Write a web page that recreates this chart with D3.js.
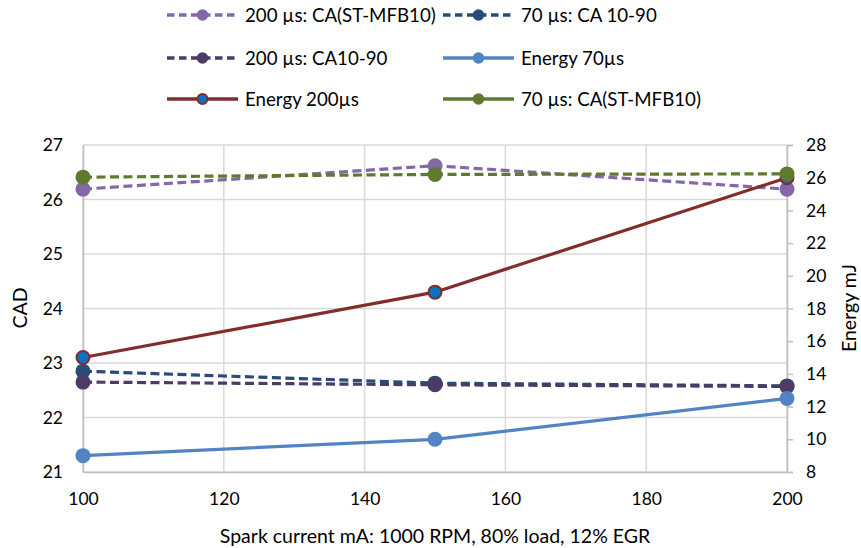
<!DOCTYPE html>
<html>
<head>
<meta charset="utf-8">
<script src="https://cdn.jsdelivr.net/npm/d3@7"></script>
<style>
  html, body { margin: 0; padding: 0; background: #fff; }
  svg { display: block; font-family: Lato, "Open Sans", sans-serif; }
</style>
</head>
<body>
<svg id="chart" width="861" height="548"></svg>
<script>
// Spark current (mA)
const current = [100, 150, 200];
const xTicks = [100, 120, 140, 160, 180, 200];
const cadTicks = [21, 22, 23, 24, 25, 26, 27];
const energyTicks = [8, 10, 12, 14, 16, 18, 20, 22, 24, 26, 28];

// Combustion angle series (CAD, left axis)
const ca200MFB = [26.19, 26.62, 26.19];
const ca70CA1090 = [22.85, 22.63, 22.58];
const ca200CA1090 = [22.65, 22.6, 22.57];
const ca70MFB = [26.41, 26.46, 26.47];
// Spark energy series (mJ, right axis)
const energy70 = [9, 10, 12.5];
const energy200 = [15, 19, 26];

const seriesNames = [
  "200 µs: CA(ST-MFB10)", "70 µs: CA 10-90",
  "200 µs: CA10-90", "Energy 70µs",
  "Energy 200µs", "70 µs: CA(ST-MFB10)"
];

// dash: plotted line style; legendDash: style of the key swatch
const series = [
  { name: seriesNames[0], values: ca200MFB,    axis: "left",  color: "#8467A8", dash: true,  legendDash: true },
  { name: seriesNames[1], values: ca70CA1090,  axis: "left",  color: "#284C77", dash: true,  legendDash: true },
  { name: seriesNames[2], values: ca200CA1090, axis: "left",  color: "#4B3B66", dash: true,  legendDash: true },
  { name: seriesNames[3], values: energy70,    axis: "right", color: "#5283C2", dash: false, legendDash: false },
  { name: seriesNames[4], values: energy200,   axis: "right", color: "#822C2C", dash: false, legendDash: false, fill: "#0A72C2" },
  { name: seriesNames[5], values: ca70MFB,     axis: "left",  color: "#5F7A2E", dash: true,  legendDash: false }
];

const svg = d3.select("#chart");
const plot = { left: 83, right: 787, top: 145, bottom: 472 };

const x = d3.scaleLinear().domain([100, 200]).range([plot.left, plot.right]);
const yL = d3.scaleLinear().domain([21, 27]).range([plot.bottom, plot.top]);
const yR = d3.scaleLinear().domain([8, 28]).range([plot.bottom, plot.top]);

const grid = "#D9D9D9";
const axisCol = "#BFBFBF";
const font = "Lato, 'Open Sans', sans-serif";

// Gridlines
svg.append("g").selectAll("line").data(cadTicks).join("line")
  .attr("x1", plot.left).attr("x2", plot.right)
  .attr("y1", d => yL(d)).attr("y2", d => yL(d))
  .attr("stroke", grid).attr("stroke-width", 1.5);
svg.append("g").selectAll("line").data(xTicks).join("line")
  .attr("x1", d => x(d)).attr("x2", d => x(d))
  .attr("y1", plot.top).attr("y2", plot.bottom)
  .attr("stroke", grid).attr("stroke-width", 1.5);

// Axes
const fmt = d3.format("d");
const xAxis = svg.append("g").attr("transform", `translate(0,${plot.bottom})`)
  .call(d3.axisBottom(x).tickValues(xTicks).tickFormat(fmt).tickSize(0).tickPadding(21));
const lAxis = svg.append("g").attr("transform", `translate(${plot.left},0)`)
  .call(d3.axisLeft(yL).tickValues(cadTicks).tickFormat(fmt).tickSize(0).tickPadding(20));
const rAxis = svg.append("g").attr("transform", `translate(${plot.right},0)`)
  .call(d3.axisRight(yR).tickValues(energyTicks).tickFormat(fmt).tickSize(6).tickPadding(13));
[xAxis, lAxis, rAxis].forEach(g => {
  g.select(".domain").attr("stroke", axisCol).attr("stroke-width", 1.5);
  g.selectAll(".tick line").attr("stroke", axisCol).attr("stroke-width", 1.5);
  g.selectAll(".tick text").attr("fill", "#000").style("font-size", "17.5px")
    .style("font-family", font);
});

// Axis titles
svg.append("text").attr("x", 435).attr("y", 543)
  .attr("text-anchor", "middle").style("font-size", "19.5px")
  .text("Spark current mA: 1000 RPM, 80% load, 12% EGR");
svg.append("text").attr("transform", "translate(27,308) rotate(-90)")
  .attr("text-anchor", "middle").style("font-size", "19.5px").text("CAD");
svg.append("text").attr("transform", "translate(856,308) rotate(-90)")
  .attr("text-anchor", "middle").style("font-size", "19.5px").text("Energy mJ");

// Series
const line = (ys) => d3.line().x((d, i) => x(current[i])).y(d => ys(d));
series.forEach(s => {
  const ys = s.axis === "left" ? yL : yR;
  const g = svg.append("g");
  g.append("path").datum(s.values)
    .attr("d", line(ys))
    .attr("fill", "none").attr("stroke", s.color).attr("stroke-width", 3.2)
    .attr("stroke-dasharray", s.dash ? "9,4.5" : null);
  g.selectAll("circle").data(s.values).join("circle")
    .attr("cx", (d, i) => x(current[i])).attr("cy", d => ys(d))
    .attr("r", s.fill ? 6.5 : 7.5)
    .attr("fill", s.fill || s.color)
    .attr("stroke", s.fill ? s.color : "none").attr("stroke-width", 2);
});

// Legend: two columns, three rows
const legendPos = [
  [167, 15], [443, 15],
  [167, 58], [443, 58],
  [167, 99], [443, 99]
];
series.forEach((s, i) => {
  const [lx, ly] = legendPos[i];
  const g = svg.append("g").attr("transform", `translate(${lx},${ly})`);
  g.append("line").attr("x1", 0).attr("x2", 71).attr("y1", 0).attr("y2", 0)
    .attr("stroke", s.color).attr("stroke-width", 3.5)
    .attr("stroke-dasharray", s.legendDash ? "7.5,4.5" : null);
  g.append("circle").attr("cx", 35.5).attr("cy", 0).attr("r", s.fill ? 5 : 5.8)
    .attr("fill", s.fill || s.color)
    .attr("stroke", s.fill ? s.color : "none").attr("stroke-width", 2);
  g.append("text").attr("x", 78).attr("y", 0).attr("dy", "0.36em")
    .style("font-size", "18.7px").text(s.name);
});
</script>
</body>
</html>
